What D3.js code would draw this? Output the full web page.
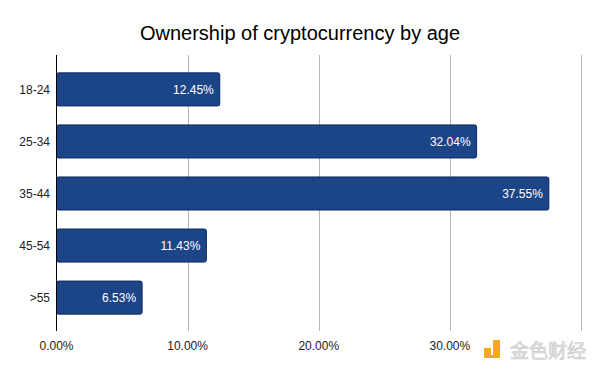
<!DOCTYPE html>
<html>
<head>
<meta charset="utf-8">
<script src="https://cdn.jsdelivr.net/npm/d3@7"></script>
<style>
  body { margin: 0; background: #fff; }
  text { font-family: "Liberation Sans", Arial, sans-serif; }
</style>
</head>
<body>
<div class="js-chart"></div>
<script>
// Chart data
var ageGroups = ['18-24', '25-34', '35-44', '45-54', '>55'];
var ownership = [12.45, 32.04, 37.55, 11.43, 6.53];
var tickValues = [0, 10, 20, 30, 40];

var width = 600;
var height = 371;

var svg = d3.select('.js-chart').append('svg')
  .attr('width', width)
  .attr('height', height);

var x = d3.scaleLinear()
  .domain([0, 40])
  .range([56.5, 581]);

var y = d3.scaleBand()
  .domain(ageGroups)
  .range([63.5, 323.5])
  .paddingInner(0.365)
  .paddingOuter(0.18);

// Title
svg.append('text')
  .attr('x', 300)
  .attr('y', 40)
  .attr('text-anchor', 'middle')
  .style('font-size', '20px')
  .style('fill', '#000')
  .text('Ownership of cryptocurrency by age');

// Gridlines
svg.append('g')
  .selectAll('line')
  .data(tickValues.slice(1))
  .enter().append('line')
  .attr('x1', function(d) { return Math.round(x(d)) + 0.5; })
  .attr('x2', function(d) { return Math.round(x(d)) + 0.5; })
  .attr('y1', 55)
  .attr('y2', 331)
  .attr('stroke', '#b7b7b7')
  .attr('stroke-width', 1);

// Bars
svg.append('g')
  .selectAll('rect')
  .data(ownership)
  .enter().append('rect')
  .attr('x', x(0))
  .attr('y', function(d, i) { return y(ageGroups[i]); })
  .attr('width', function(d) { return x(d) - x(0); })
  .attr('height', y.bandwidth())
  .attr('rx', 2)
  .attr('fill', '#1c4587')
  .attr('stroke', '#0e2a5c')
  .attr('stroke-width', 1);

// Value labels
svg.append('g')
  .selectAll('text')
  .data(ownership)
  .enter().append('text')
  .attr('x', function(d) { return x(d) - 6; })
  .attr('y', function(d, i) { return y(ageGroups[i]) + y.bandwidth() / 2; })
  .attr('dy', '0.35em')
  .attr('text-anchor', 'end')
  .style('font-size', '12px')
  .style('fill', '#fff')
  .text(function(d) { return d.toFixed(2) + '%'; });

// Axis line at zero
svg.append('line')
  .attr('x1', 56.5)
  .attr('x2', 56.5)
  .attr('y1', 55)
  .attr('y2', 331)
  .attr('stroke', '#000')
  .attr('stroke-width', 1);

// Category labels
svg.append('g')
  .selectAll('text')
  .data(ageGroups)
  .enter().append('text')
  .attr('x', 50)
  .attr('y', function(d) { return y(d) + y.bandwidth() / 2; })
  .attr('dy', '0.35em')
  .attr('text-anchor', 'end')
  .style('font-size', '12px')
  .style('fill', '#222')
  .text(function(d) { return d; });

// Tick labels (40% has no label)
svg.append('g')
  .selectAll('text')
  .data(tickValues.slice(0, 4))
  .enter().append('text')
  .attr('x', function(d) { return x(d); })
  .attr('y', 350)
  .attr('text-anchor', 'middle')
  .style('font-size', '12px')
  .style('fill', '#222')
  .text(function(d) { return d.toFixed(2) + '%'; });

// Watermark
var mark = svg.append('g').attr('transform', 'translate(484,338)');
mark.append('rect').attr('x', 0).attr('y', 10).attr('width', 7).attr('height', 7).attr('fill', '#f5a81c');
mark.append('rect').attr('x', 9).attr('y', 2).attr('width', 7).attr('height', 15).attr('fill', '#f5a81c');
mark.append('rect').attr('x', 0).attr('y', 17).attr('width', 16).attr('height', 3).attr('fill', '#f5a81c');
svg.append('text')
  .attr('x', 510)
  .attr('y', 358)
  .style('font-family', '"Noto Sans CJK SC", sans-serif')
  .style('font-size', '19px')
  .style('fill', '#e4e4e4')
  .style('stroke', '#c8c8c8')
  .style('stroke-width', 0.6)
  .text('金色财经');
</script>
</body>
</html>
